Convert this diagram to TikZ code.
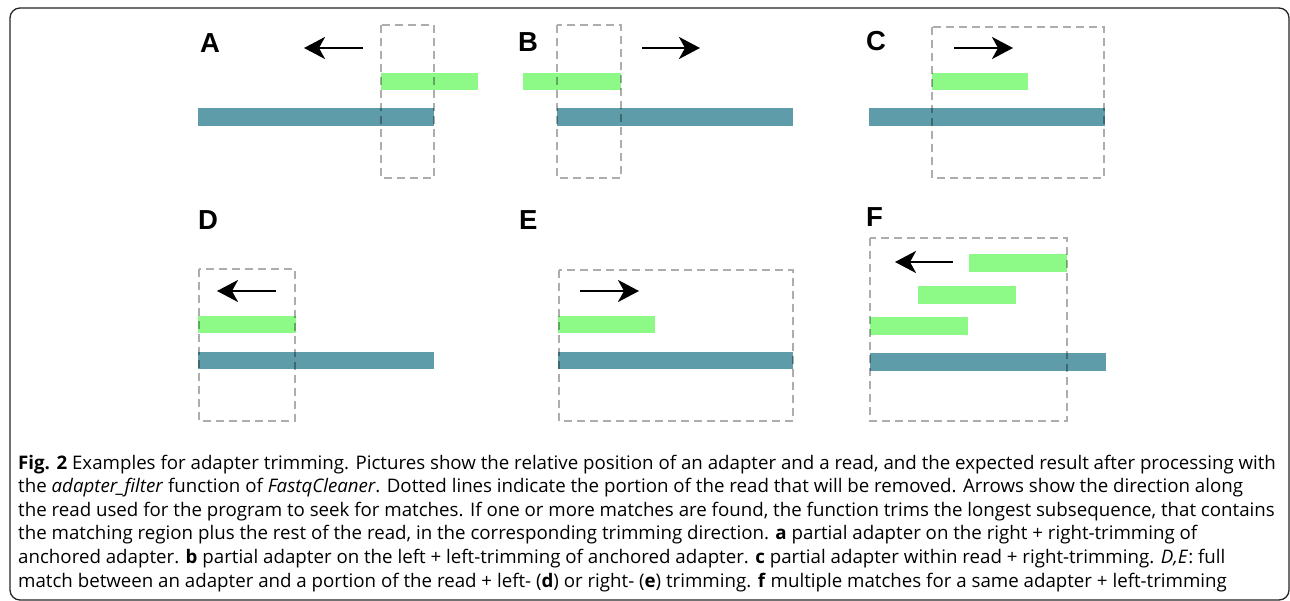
\documentclass[tikz,border=0pt]{standalone}
\usepackage{fontspec}
\usetikzlibrary{arrows.meta}
\newfontfamily\capfont{Open Sans}
\newfontfamily\labfont{Liberation Sans}
\definecolor{adgreen}{RGB}{141,250,136}
\definecolor{readteal}{RGB}{93,156,168}
\tikzset{
  adbar/.style={fill=adgreen},
  readbar/.style={fill=readteal},
  trimbox/.style={draw=black, draw opacity=0.32, line width=1.4pt, dash pattern=on 8pt off 5pt},
  dirarrow/.style={line width=2.5pt, -{Stealth[length=21pt,width=22pt,inset=6pt]}},
  panellabel/.style={anchor=base west, inner sep=0pt, font=\labfont\bfseries\fontsize{27.5}{27.5}\selectfont},
  capline/.style={anchor=base west, inner sep=0pt, font=\capfont\fontsize{18.7}{18.7}\selectfont}
}
\begin{document}
\begin{tikzpicture}[x=1pt,y=-1pt]
\useasboundingbox (0,0) rectangle (1290,601);
\fill[white] (0,0) rectangle (1290,601);
\draw[line width=1.3pt, black!85, rounded corners=10pt] (10,8) rectangle (1289,600);

% Panel A
\node[panellabel] (labA) at (200,53) {A};
\fill[readbar] (198,108) rectangle (434,126);
\fill[adbar] (381,73) rectangle (478,90);
\draw[trimbox] (381,25) rectangle (434,178);
\coordinate (a1) at (363,48); \coordinate (a2) at (304,48);
\draw[dirarrow] (a1) -- (a2);

% Panel B
\node[panellabel] (labB) at (518,52) {B};
\fill[readbar] (557,108) rectangle (793,126);
\fill[adbar] (523,73) rectangle (621,90);
\draw[trimbox] (557,25) rectangle (621,178);
\coordinate (b1) at (642,48); \coordinate (b2) at (700,48);
\draw[dirarrow] (b1) -- (b2);

% Panel C
\node[panellabel] (labC) at (866,51) {C};
\fill[readbar] (869,108) rectangle (1105,126);
\fill[adbar] (932,73) rectangle (1028,90);
\draw[trimbox] (932,27) rectangle (1104,178);
\coordinate (c1) at (954,48); \coordinate (c2) at (1013,48);
\draw[dirarrow] (c1) -- (c2);

% Panel D
\node[panellabel] (labD) at (198,230) {D};
\fill[readbar] (198,352) rectangle (434,369);
\fill[adbar] (198,316) rectangle (296,333);
\draw[trimbox] (199,269) rectangle (295,421);
\coordinate (d1) at (276,291); \coordinate (d2) at (217,291);
\draw[dirarrow] (d1) -- (d2);

% Panel E
\node[panellabel] (labE) at (519,230) {E};
\fill[readbar] (558,352) rectangle (793,369);
\fill[adbar] (558,316) rectangle (655,333);
\draw[trimbox] (559,270) rectangle (793,421);
\coordinate (e1) at (580,291); \coordinate (e2) at (639,291);
\draw[dirarrow] (e1) -- (e2);

% Panel F
\node[panellabel] (labF) at (866,227) {F};
\fill[readbar] (870,353) rectangle (1106,371);
\fill[adbar] (969,254) rectangle (1067,272);
\fill[adbar] (918,286) rectangle (1016,304);
\fill[adbar] (870,317) rectangle (968,335);
\draw[trimbox] (870,238) rectangle (1067,421);
\coordinate (f1) at (953,262); \coordinate (f2) at (895,262);
\draw[dirarrow] (f1) -- (f2);

% Caption
\node[capline] (cap1) at (18,469) {\textbf{Fig. 2} Examples for adapter trimming. Pictures show the relative position of an adapter and a read, and the expected result after processing with};
\node[capline] (cap2) at (18,492.6) {the \textit{adapter\_filter} function of \textit{FastqCleaner}. Dotted lines indicate the portion of the read that will be removed. Arrows show the direction along};
\node[capline] (cap3) at (18,516.2) {the read used for the program to seek for matches. If one or more matches are found, the function trims the longest subsequence, that contains};
\node[capline] (cap4) at (18,539.8) {the matching region plus the rest of the read, in the corresponding trimming direction. \textbf{a} partial adapter on the right + right-trimming of};
\node[capline] (cap5) at (18,563.4) {anchored adapter. \textbf{b} partial adapter on the left + left-trimming of anchored adapter. \textbf{c} partial adapter within read + right-trimming. \textit{D,E}: full};
\node[capline] (cap6) at (18,587) {match between an adapter and a portion of the read + left- (\textbf{d}) or right- (\textbf{e}) trimming. \textbf{f} multiple matches for a same adapter + left-trimming};
\end{tikzpicture}
\end{document}
